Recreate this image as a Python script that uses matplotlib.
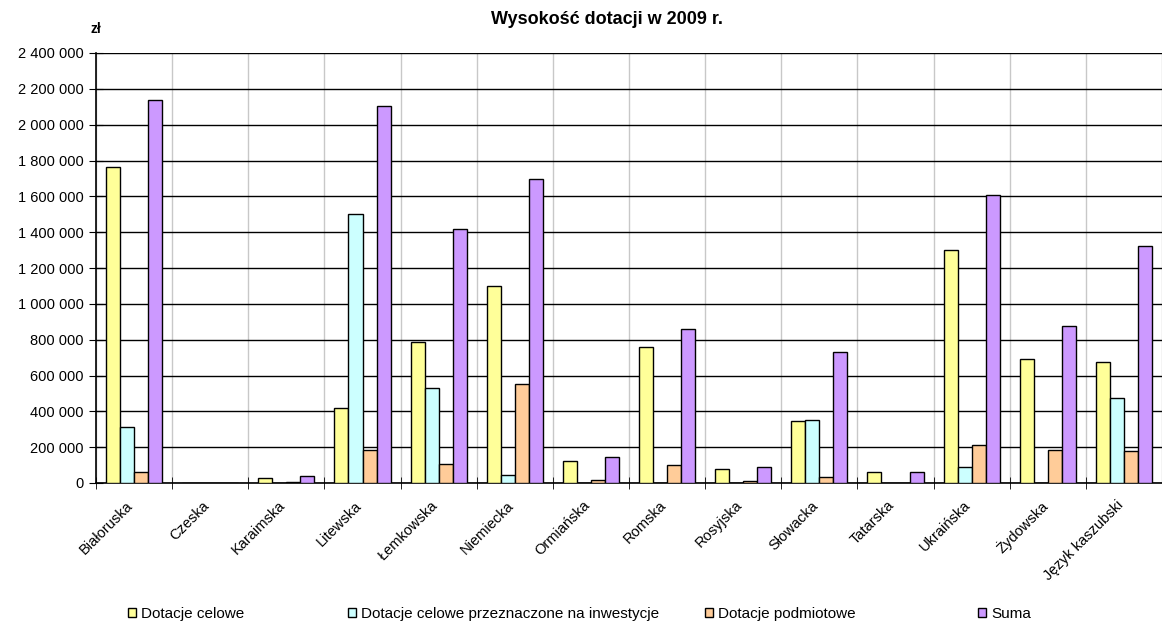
import numpy as np
import matplotlib
matplotlib.use('Agg')
import matplotlib.pyplot as plt
import matplotlib.transforms as mtransforms
from matplotlib.ticker import FuncFormatter, MultipleLocator

plt.rcParams['font.family'] = ['Liberation Sans', 'DejaVu Sans']

categories = ['Białoruska', 'Czeska', 'Karaimska', 'Litewska', 'Łemkowska', 'Niemiecka',
              'Ormiańska', 'Romska', 'Rosyjska', 'Słowacka', 'Tatarska', 'Ukraińska',
              'Żydowska', 'Język kaszubski']
celowe = [1765000, 0, 30000, 420000, 785000, 1100000, 125000, 760000, 78000, 345000,
          60000, 1300000, 690000, 675000]
inwestycje = [312000, 0, 0, 1500000, 530000, 45000, 0, 0, 0, 350000, 0, 88000, 0, 475000]
podmiotowe = [60000, 0, 8000, 185000, 105000, 550000, 18000, 100000, 10000, 33000, 0,
              213000, 183000, 178000]
suma = [2140000, 0, 38000, 2105000, 1420000, 1695000, 145000, 860000, 92000, 730000,
        60000, 1605000, 875000, 1325000]

series = [celowe, inwestycje, podmiotowe, suma]
labels = ['Dotacje celowe', 'Dotacje celowe przeznaczone na inwestycje',
          'Dotacje podmiotowe', 'Suma']
colors = ['#FFFF99', '#CCFFFF', '#FFCC99', '#CC99FF']

fig = plt.figure(figsize=(11.62, 6.22), dpi=100)
ax = fig.add_axes([96/1162, 1-483/622, 1-96/1162, (483-53)/622])

x = np.arange(len(categories))
w = 0.184
bars = []
for i, (vals, c) in enumerate(zip(series, colors)):
    b = ax.bar(x + (i-1.5)*w, vals, w, color=c, edgecolor='black', linewidth=1.0, zorder=3)
    bars.append(b)

ax.set_xlim(-0.5, len(categories)-0.5)
ax.set_ylim(0, 2400000)
ax.yaxis.set_major_locator(MultipleLocator(200000))
ax.yaxis.set_major_formatter(FuncFormatter(lambda v, p: f'{int(v):,}'.replace(',', ' ')))
ax.grid(axis='y', color='black', linewidth=1.0, zorder=1)

ax.set_xticks(x)
ax.set_xticklabels(categories, rotation=45, ha='right', va='top', rotation_mode='anchor',
                   fontsize=10.5)
ax.tick_params(axis='x', which='major', length=0, pad=11)
# shift labels a bit to the left like in the original
off = mtransforms.ScaledTranslation(-8/100, 0, fig.dpi_scale_trans)
for lab in ax.get_xticklabels():
    lab.set_transform(lab.get_transform() + off)
ax.set_xticks(np.arange(-0.5, len(categories)), minor=True)
ax.tick_params(axis='x', which='minor', direction='inout', length=8, color='black')
ax.grid(axis='x', which='minor', color='#c8c8c8', linewidth=1.0, zorder=1)
ax.tick_params(axis='y', direction='inout', length=10, labelsize=10.5, pad=4)

for s in ['top', 'right']:
    ax.spines[s].set_visible(False)
ax.spines['left'].set_linewidth(1.2)
ax.spines['bottom'].set_linewidth(1.2)

fig.text(607/1162, 1-20/622, 'Wysokość dotacji w 2009 r.', ha='center', va='center',
         fontsize=13, fontweight='bold')
fig.text(96/1162, 1-29/622, 'zł', ha='center', va='center', fontsize=10, fontweight='bold')

leg_x = [128, 348, 705, 978]
for b, lab, lx in zip(bars, labels, leg_x):
    fig.legend([b], [lab], loc='center left', bbox_to_anchor=(lx/1162, 1-614/622),
               frameon=False, fontsize=11, handlelength=0.55, handleheight=0.55,
               handletextpad=0.3, borderpad=0, borderaxespad=0)

fig.savefig('out.png', dpi=100)
